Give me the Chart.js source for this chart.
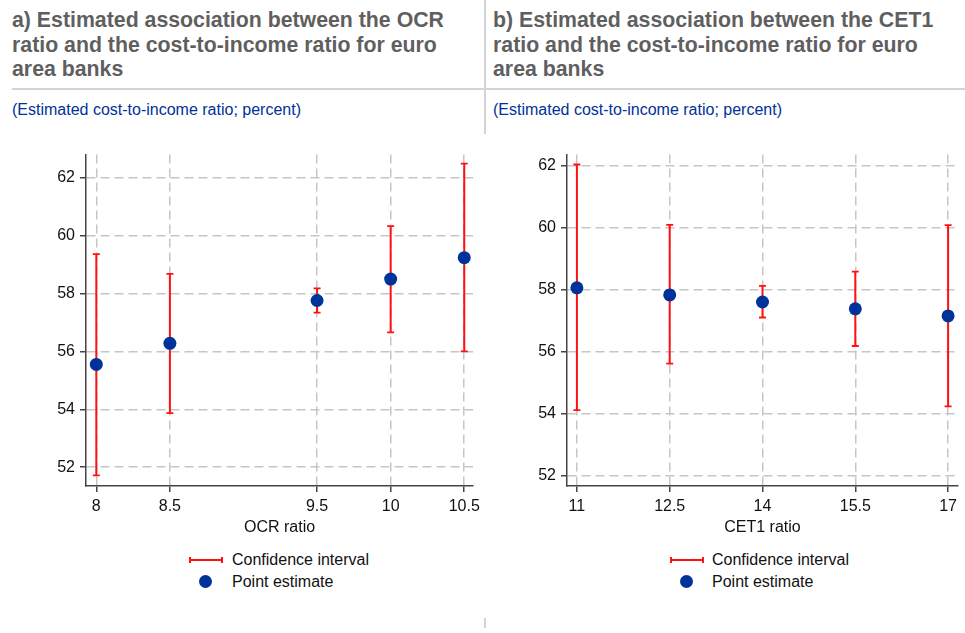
<!DOCTYPE html>
<html>
<head>
<meta charset="utf-8">
<script src="https://cdn.jsdelivr.net/npm/chart.js@4/dist/chart.umd.min.js"></script>
<style>
    body { margin: 0; background: #fff; font-family: "Liberation Sans", Arial, sans-serif; }
    #page { position: relative; width: 965px; height: 633px; overflow: hidden; }
    .title { position: absolute; top: 8px; font-size: 21.3px; font-weight: bold; color: #5f5f5f; line-height: 24.5px; white-space: nowrap; }
    .sub { position: absolute; top: 101px; font-size: 16px; color: #003299; }
    .rule { position: absolute; top: 88px; height: 2px; background: #d4d4d4; }
    .vline { position: absolute; left: 484px; width: 1.5px; background: #d4d4d4; }
    .chartBox { position: absolute; top: 140px; height: 400px; }
    .leg { position: absolute; font-size: 16px; color: #111; }
    .ci { position: absolute; height: 2px; background: #f11; }
    .ci:before, .ci:after { content: ""; position: absolute; top: -2px; width: 2px; height: 6px; background: #f11; }
    .ci:before { left: 0; }
    .ci:after { right: 0; }
    .dot { position: absolute; width: 13px; height: 13px; border-radius: 50%; background: #003399; }
</style>
</head>
<body>
<div id="page">
    <div class="title" style="left:12px">a) Estimated association between the OCR<br>ratio and the cost-to-income ratio for euro<br>area banks</div>
    <div class="title" style="left:493px">b) Estimated association between the CET1<br>ratio and the cost-to-income ratio for euro<br>area banks</div>
    <div class="rule" style="left:12px;width:953px"></div>
    <div class="vline" style="top:0;height:134px"></div>
    <div class="vline" style="top:618px;height:10px"></div>
    <div class="sub" style="left:12px">(Estimated cost-to-income ratio; percent)</div>
    <div class="sub" style="left:493px">(Estimated cost-to-income ratio; percent)</div>

    <div class="chartBox" style="left:0;width:485px"><canvas id="ocrChart"></canvas></div>
    <div class="chartBox" style="left:485px;width:480px"><canvas id="cetChart"></canvas></div>

    <div class="ci" style="left:189px;top:559px;width:34px"></div>
    <div class="leg" style="left:232px;top:551px">Confidence interval</div>
    <div class="dot" style="left:199px;top:575px"></div>
    <div class="leg" style="left:232px;top:573px">Point estimate</div>

    <div class="ci" style="left:670px;top:559px;width:34px"></div>
    <div class="leg" style="left:712px;top:551px">Confidence interval</div>
    <div class="dot" style="left:680px;top:575px"></div>
    <div class="leg" style="left:712px;top:573px">Point estimate</div>
</div>

<script>
// DATA
const ocrX = [8, 8.5, 9.5, 10, 10.5];
const ocrEst = [55.55, 56.28, 57.76, 58.50, 59.24];
const ocrLow = [51.72, 53.87, 57.34, 56.66, 56.00];
const ocrHigh = [59.36, 58.68, 58.18, 60.33, 62.49];

const cetX = [11, 12.5, 14, 15.5, 17];
const cetEst = [58.07, 57.84, 57.61, 57.39, 57.16];
const cetLow = [54.12, 55.62, 57.11, 56.19, 54.24];
const cetHigh = [62.05, 60.10, 58.13, 58.59, 60.09];

const ocrTicks = [8, 8.5, 9.5, 10, 10.5];
const cetTicks = [11, 12.5, 14, 15.5, 17];
const yTicks = [52, 54, 56, 58, 60, 62];

Chart.defaults.font.family = '"Liberation Sans", Arial, sans-serif';
Chart.defaults.font.size = 16;
Chart.defaults.color = '#111';

function makeChart(id, xs, est, low, high, xTicks, xTitle, range, yWidth, padRight) {
    const points = xs.map((x, i) => ({ x: x, y: est[i] }));
    // error bars: two points per bar, broken by a null
    const bars = [];
    xs.forEach((x, i) => {
        bars.push({ x: x, y: low[i] });
        bars.push({ x: x, y: high[i] });
        bars.push({ x: x, y: null });
    });

    const grid = {
        color: '#c6c6c6',
        lineWidth: 1.5,
        tickLength: 6,
        tickColor: '#444',
        tickWidth: 1.5
    };
    const border = { display: true, color: '#444', width: 1.5, dash: [9, 5] };

    return new Chart(document.getElementById(id), {
        type: 'scatter',
        data: {
            datasets: [{
                label: 'Point estimate',
                data: points,
                pointRadius: 6.5,
                pointBackgroundColor: '#003399',
                pointBorderWidth: 0
            }, {
                type: 'line',
                label: 'Confidence interval',
                data: bars,
                showLine: true,
                spanGaps: false,
                borderColor: '#f11',
                borderWidth: 2,
                pointStyle: 'line',
                pointRadius: 3.5,
                pointBorderColor: '#f11',
                pointBorderWidth: 1.8
            }]
        },
        options: {
            responsive: true,
            maintainAspectRatio: false,
            animation: false,
            events: [],
            layout: { padding: { top: 12, right: padRight, bottom: 0, left: 0 } },
            plugins: { legend: { display: false }, tooltip: { enabled: false } },
            scales: {
                x: {
                    type: 'linear',
                    min: range[0],
                    max: range[1],
                    afterBuildTicks: s => { s.ticks = xTicks.map(v => ({ value: v })); },
                    afterFit: s => { s.height = 54; },
                    ticks: { padding: 5, maxRotation: 0 },
                    grid: grid,
                    border: border,
                    title: { display: true, text: xTitle, font: { size: 16 }, padding: { top: 0, bottom: 3 } }
                },
                y: {
                    min: range[2],
                    max: range[3],
                    afterBuildTicks: s => { s.ticks = yTicks.map(v => ({ value: v })); },
                    afterFit: s => { s.width = yWidth; },
                    ticks: { padding: 5 },
                    grid: grid,
                    border: border
                }
            }
        }
    });
}

makeChart('ocrChart', ocrX, ocrEst, ocrLow, ocrHigh, ocrTicks, 'OCR ratio', [7.93, 10.56, 51.35, 62.8], 86, 8);
makeChart('cetChart', cetX, cetEst, cetLow, cetHigh, cetTicks, 'CET1 ratio', [10.84, 17.16, 51.67, 62.37], 82, 7);
</script>
</body>
</html>
